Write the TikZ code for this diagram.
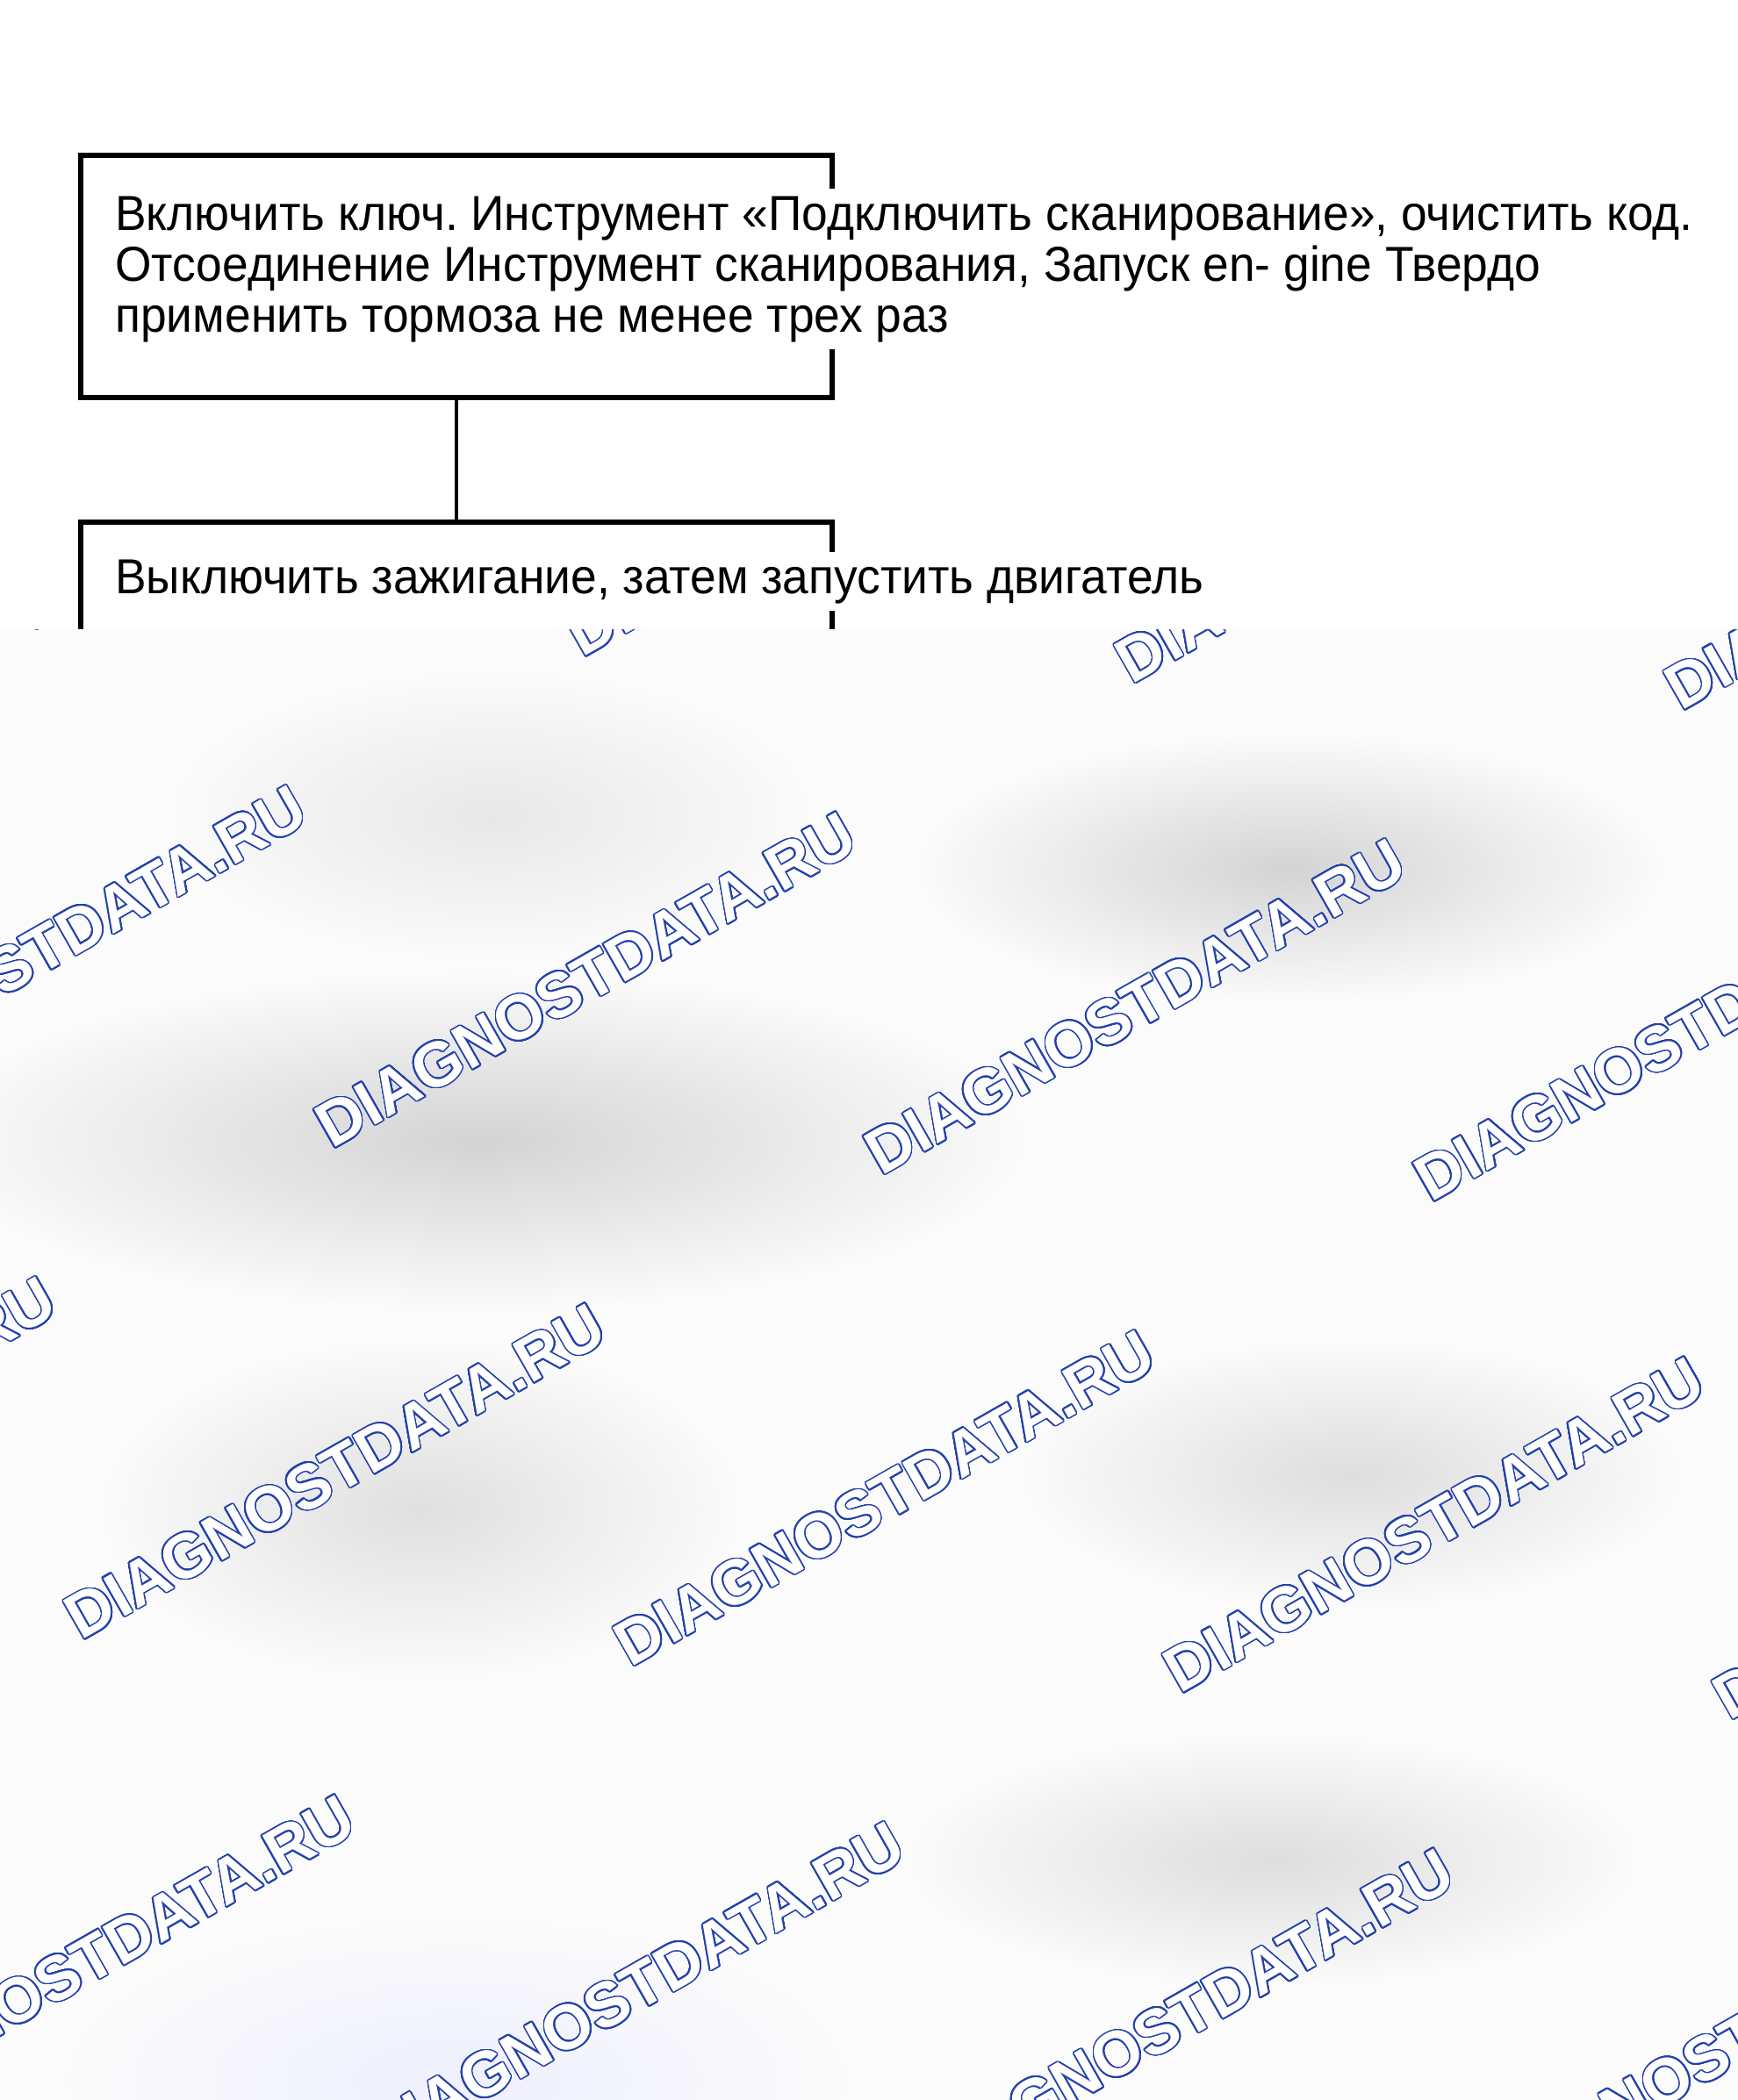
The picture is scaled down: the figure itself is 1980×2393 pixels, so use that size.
\documentclass[tikz,border=0pt]{standalone}
\usepackage{fontspec}
\setmainfont{Liberation Sans}
\newfontfamily\boxfont{Liberation Sans}[FakeStretch=0.952]
\usepackage{contour}
\contourlength{0.8pt}
\contournumber{32}
\usetikzlibrary{positioning,fadings}
\definecolor{wmblue}{RGB}{35,65,170}
\frenchspacing
\tikzfading[name=blobfade, inner color=transparent!0, outer color=transparent!100]
\tikzset{
  stepbox/.style={draw=black, line width=3pt, minimum width=428pt, minimum height=138pt, inner sep=0pt},
  steptext/.style={fill=white, inner xsep=2pt, inner ysep=4pt, align=left, font=\boxfont\fontsize{28pt}{29pt}\selectfont},
  link/.style={line width=2.3pt},
  blob/.style={path fading=blobfade},
  wmark/.style={rotate=29.7, anchor=base west, inner sep=0pt, text=white, font=\fontsize{36pt}{40pt}\selectfont\bfseries}
}
\begin{document}
\begin{tikzpicture}[x=0.5pt, y=-0.5pt]
  \useasboundingbox (0,0) rectangle (1980,2393);
  % boxes
  \node[stepbox] (vkl) at (520,315) {};
  \node[stepbox, minimum height=110pt, below=68pt of vkl] (vykl) {};
  \draw[link] (vkl) -- (vykl);
  % texts (they run over the right border)
  \node[steptext, anchor=base west] (vkltxt) at (127,378) {Включить ключ. Инструмент «Подключить сканирование», очистить код.\\Отсоединение Инструмент сканирования, Запуск en- gine Твердо\\применить тормоза не менее трех раз};
  \node[steptext, anchor=base west] (vykltxt) at (127,676) {Выключить зажигание, затем запустить двигатель};
  % blurred part
  \begin{scope}
    \clip (0,717) rectangle (1980,2393);
    \fill[black!1.5] (0,717) rectangle (1980,2393);
    \fill[black!17, blob] (545,1300) ellipse [x radius=310pt, y radius=95pt];
    \fill[black!17, blob] (1470,990) ellipse [x radius=210pt, y radius=75pt];
    \fill[black!9, blob] (560,930) ellipse [x radius=180pt, y radius=80pt];
    \fill[black!12, blob] (480,1720) ellipse [x radius=180pt, y radius=95pt];
    \fill[black!13, blob] (1540,1680) ellipse [x radius=185pt, y radius=75pt];
    \fill[black!13, blob] (1450,2120) ellipse [x radius=205pt, y radius=70pt];
    \fill[blue!6, blob] (520,2370) ellipse [x radius=220pt, y radius=90pt];
    \foreach \r in {-1,...,2}
      \foreach \k in {-2,...,3}
        \node[wmark] at ({378+626*\k-285.5*\r},{1310+30.5*\k+560*\r}) {\contour{wmblue}{DIAGNOSTDATA.RU}};
  \end{scope}
\end{tikzpicture}
\end{document}
